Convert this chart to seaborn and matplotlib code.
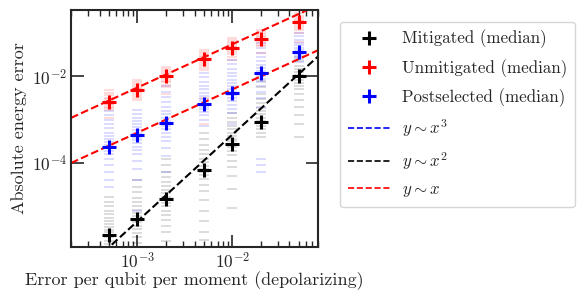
import numpy as np
import pandas as pd

import matplotlib
matplotlib.use('Agg')
import matplotlib.pyplot as plt
from matplotlib.lines import Line2D
import seaborn as sns

# error rates (depolarizing, per qubit per moment)
ERROR_RATES = [5e-4, 1e-3, 2e-3, 5e-3, 1e-2, 2e-2, 5e-2]

# medians
MITIGATED_MEDIAN = [2.2e-6, 5.2e-6, 1.48e-5, 7.0e-5, 2.8e-4, 8.9e-4, 1.0e-2]
UNMITIGATED_MEDIAN = [2.5e-3, 4.8e-3, 1.0e-2, 2.45e-2, 4.6e-2, 7.1e-2, 1.78e-1]
POSTSELECTED_MEDIAN = [2.4e-4, 4.4e-4, 8.5e-4, 2.3e-3, 4.1e-3, 1.17e-2, 3.56e-2]

# individual runs as log10(error), one list per error rate
MITIGATED_LOG = [
    [-4.78, -4.9, -5.0, -5.1, -5.18, -5.26, -5.33, -5.4, -5.47, -5.54, -5.6, -5.66, -5.72, -5.8, -5.88],
    [-4.4, -4.55, -4.68, -4.8, -4.9, -5.0, -5.08, -5.16, -5.23, -5.3, -5.37, -5.45, -5.53, -5.62, -5.72, -5.85],
    [-3.9, -4.05, -4.2, -4.32, -4.43, -4.53, -4.62, -4.7, -4.78, -4.85, -4.92, -5.0, -5.1, -5.2, -5.32, -5.45, -5.6, -5.8],
    [-3.31, -3.45, -3.58, -3.7, -3.8, -3.9, -3.98, -4.06, -4.13, -4.2, -4.28, -4.38, -4.5, -4.65, -4.85, -5.1, -5.35, -5.6, -5.78],
    [-2.85, -2.95, -3.05, -3.14, -3.22, -3.3, -3.37, -3.44, -3.5, -3.57, -3.64, -3.72, -3.82, -3.95, -4.1, -4.3, -4.6, -5.04],
    [-2.1, -2.25, -2.4, -2.52, -2.62, -2.72, -2.8, -2.88, -2.95, -3.02, -3.08, -3.15, -3.22, -3.3, -3.4],
    [-1.55, -1.65, -1.75, -1.82, -1.9, -1.96, -2.02, -2.08, -2.15, -2.22, -2.3, -2.4, -2.55, -2.7, -2.9, -3.1, -3.4],
]
UNMITIGATED_LOG = [
    [-2.32, -2.38, -2.44, -2.49, -2.53, -2.57, -2.6, -2.63, -2.66, -2.7, -2.74, -2.78, -2.95],
    [-2.08, -2.13, -2.18, -2.22, -2.26, -2.3, -2.33, -2.37, -2.41, -2.45, -2.5, -2.55],
    [-1.79, -1.84, -1.88, -1.92, -1.96, -1.99, -2.02, -2.06, -2.1, -2.14, -2.2, -2.25, -2.4],
    [-1.39, -1.44, -1.48, -1.52, -1.56, -1.6, -1.63, -1.67, -1.71, -1.76, -1.8, -1.85, -2.5, -3.1],
    [-1.12, -1.17, -1.21, -1.25, -1.29, -1.33, -1.36, -1.4, -1.44, -1.49, -1.55, -1.62],
    [-0.93, -0.98, -1.02, -1.06, -1.1, -1.13, -1.16, -1.19, -1.23, -1.27, -1.31, -1.45],
    [-0.54, -0.6, -0.65, -0.69, -0.73, -0.76, -0.8, -0.84, -0.88, -0.93, -1.0, -1.2],
]
POSTSELECTED_LOG = [
    [-2.8, -2.9, -3.0, -3.1, -3.2, -3.3, -3.38, -3.45, -3.52, -3.58, -3.65, -3.72, -3.8, -3.9, -4.05, -4.2, -4.4, -4.55],
    [-2.78, -2.86, -2.95, -3.03, -3.1, -3.17, -3.24, -3.3, -3.36, -3.42, -3.48, -3.55, -3.62, -3.7, -3.8, -3.95, -4.15, -4.4, -5.1],
    [-2.22, -2.35, -2.48, -2.6, -2.7, -2.8, -2.88, -2.95, -3.02, -3.08, -3.15, -3.22, -3.3, -3.4, -3.5, -3.65, -3.85, -4.2],
    [-1.92, -2.02, -2.12, -2.22, -2.3, -2.38, -2.45, -2.52, -2.58, -2.64, -2.7, -2.76, -2.83, -2.9, -3.0, -3.15],
    [-1.62, -1.72, -1.82, -1.92, -2.0, -2.08, -2.16, -2.23, -2.3, -2.37, -2.43, -2.5, -2.57, -2.65, -2.75, -2.85, -3.1],
    [-1.23, -1.35, -1.46, -1.56, -1.65, -1.73, -1.8, -1.87, -1.93, -1.99, -2.06, -2.14, -2.23, -2.35, -2.5, -2.7, -3.9, -4.05, -4.2],
    [-1.0, -1.08, -1.15, -1.22, -1.28, -1.34, -1.4, -1.45, -1.5, -1.55, -1.6, -1.67],
]

# power-law guides y = c * x^k
FIT_X = [2e-4, 8e-2]
FITS = [
    ('unmit', 5.5, 1, 'red'),
    ('post', 0.5, 1, 'red'),
    ('mit', 4.5, 2, 'black'),
]


def samples_frame(x_vals, log_lists):
    rows = []
    for x, logs in zip(x_vals, log_lists):
        for v in logs:
            rows.append([x, 10 ** v])
    return pd.DataFrame(rows, columns=['x', 'y'])


sns.set_style('ticks')
plt.rcParams['font.family'] = 'serif'
plt.rcParams['font.serif'] = ['cmr10']
plt.rcParams['mathtext.fontset'] = 'cm'
plt.rcParams['axes.formatter.use_mathtext'] = True
plt.rcParams['axes.unicode_minus'] = False

fig = plt.figure(figsize=(5.82, 2.93), dpi=100)
ax = fig.add_axes([71 / 582, 46 / 293, 247 / 582, 237 / 293])

for logs, col in [(MITIGATED_LOG, 'black'), (UNMITIGATED_LOG, 'red'), (POSTSELECTED_LOG, 'blue')]:
    df = samples_frame(ERROR_RATES, logs)
    sns.scatterplot(data=df, x='x', y='y', marker='_', s=45, linewidth=1.1,
                    color=col, alpha=0.18, ax=ax, legend=False)

for name, c, k, col in FITS:
    xs = np.array(FIT_X)
    fit_df = pd.DataFrame({'x': xs, 'y': c * xs ** k})
    sns.lineplot(data=fit_df, x='x', y='y', color=col, linestyle='--', linewidth=1.5,
                 ax=ax, legend=False)

for med, col in [(MITIGATED_MEDIAN, 'black'), (UNMITIGATED_MEDIAN, 'red'), (POSTSELECTED_MEDIAN, 'blue')]:
    med_df = pd.DataFrame({'x': ERROR_RATES, 'y': med})
    sns.scatterplot(data=med_df, x='x', y='y', marker='+', s=110, linewidth=2.2,
                    color=col, ax=ax, legend=False, zorder=5)

ax.set_xscale('log')
ax.set_yscale('log')
ax.set_xlim(2e-4, 8e-2)
ax.set_ylim(1.15e-6, 0.34)
ax.set_yticks([1e-4, 1e-2])
ax.yaxis.set_minor_locator(matplotlib.ticker.NullLocator())

ax.tick_params(which='both', direction='in', top=True, right=True, labelsize=12.5, pad=3)
ax.tick_params(which='major', length=9, width=1.2)
ax.tick_params(which='minor', length=4.5, width=1.0)
for sp in ax.spines.values():
    sp.set_linewidth(1.5)

ax.set_xlabel('Error per qubit per moment (depolarizing)', fontsize=13, labelpad=0)
ax.set_ylabel('Absolute energy error', fontsize=13, labelpad=3)

handles = [
    Line2D([], [], color='black', marker='+', linestyle='none', markersize=10, markeredgewidth=2.2),
    Line2D([], [], color='red', marker='+', linestyle='none', markersize=10, markeredgewidth=2.2),
    Line2D([], [], color='blue', marker='+', linestyle='none', markersize=10, markeredgewidth=2.2),
    Line2D([], [], color='blue', linestyle='--', linewidth=1.2),
    Line2D([], [], color='black', linestyle='--', linewidth=1.2),
    Line2D([], [], color='red', linestyle='--', linewidth=1.2),
]
labels = ['Mitigated (median)', 'Unmitigated (median)', 'Postselected (median)',
          r'$y \sim x^3$', r'$y \sim x^2$', r'$y \sim x$']
ax.legend(handles, labels, loc='upper left', bbox_to_anchor=(269 / 247, 225 / 237),
          borderaxespad=0, fontsize=12.2, frameon=True, fancybox=True,
          edgecolor='0.8', handlelength=2.5, handletextpad=0.7, labelspacing=0.62,
          borderpad=0.45)

fig.savefig('out.png', dpi=100)
